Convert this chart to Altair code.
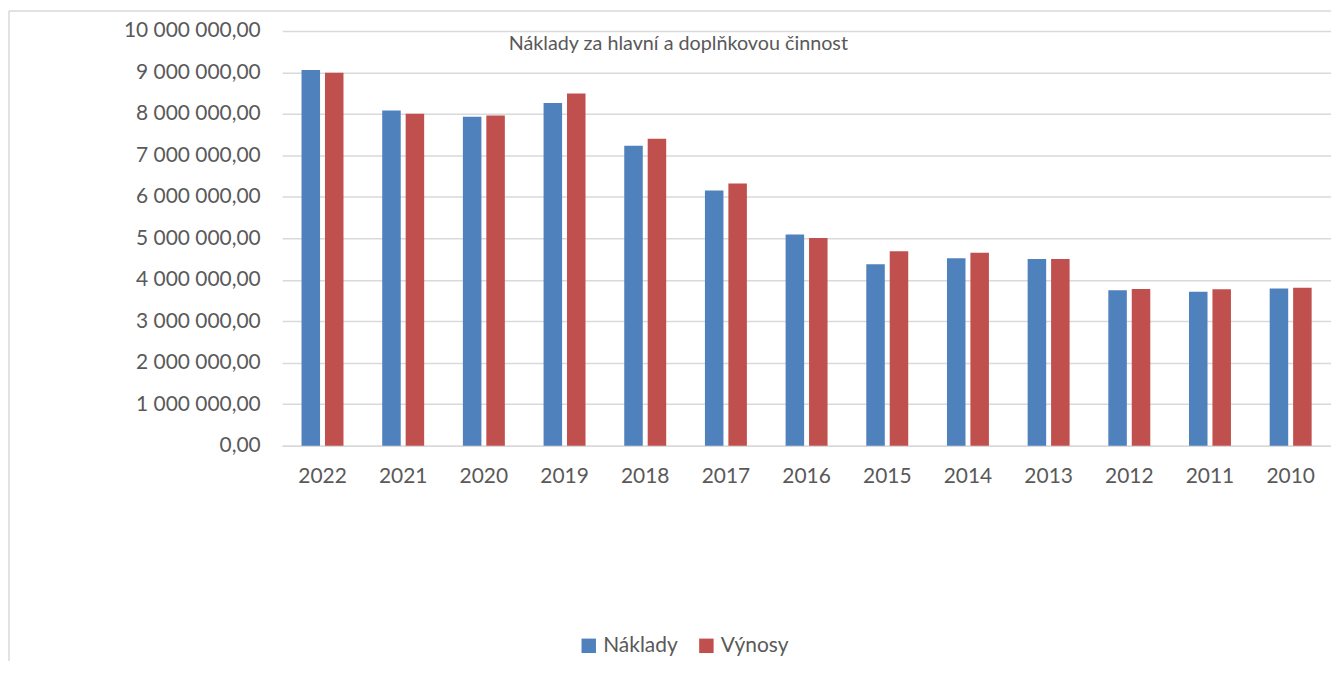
import altair as alt
import pandas as pd

years = ["2022", "2021", "2020", "2019", "2018", "2017", "2016", "2015", "2014", "2013", "2012", "2011", "2010"]
naklady = [9060000, 8080000, 7930000, 8260000, 7230000, 6150000, 5090000, 4375000, 4520000, 4500000, 3750000, 3710000, 3790000]
vynosy = [8990000, 8000000, 7960000, 8490000, 7400000, 6320000, 5010000, 4690000, 4650000, 4500000, 3780000, 3770000, 3810000]
series = ["Náklady", "Výnosy"]
colors = ["#4F81BD", "#C0504D"]
title_text = "Náklady za hlavní a doplňkovou činnost"

rows = []
for i, y in enumerate(years):
    rows.append({"rok": y, "serie": series[0], "hodnota": naklady[i]})
    rows.append({"rok": y, "serie": series[1], "hodnota": vynosy[i]})
df = pd.DataFrame(rows)

FONT = "Lato"
TXT = "#595959"
GRID = "#D9D9D9"

bars = alt.Chart(df).mark_bar().encode(
    x=alt.X("rok:N", sort=years, title=None,
            scale=alt.Scale(paddingInner=0.48, paddingOuter=0.24),
            axis=alt.Axis(labelAngle=0, ticks=False, domain=True, domainColor=GRID, domainWidth=1.5,
                          labelPadding=20, labelFontSize=21, labelColor=TXT, labelFont=FONT)),
    xOffset=alt.XOffset("serie:N", sort=series, scale=alt.Scale(paddingInner=0.21, paddingOuter=0)),
    y=alt.Y("hodnota:Q", title=None,
            scale=alt.Scale(domain=[0, 10000000], nice=False),
            axis=alt.Axis(values=list(range(0, 10000001, 1000000)),
                          labelExpr="datum.value == 0 ? '0,00' : format(datum.value/1000000, 'd') + ' 000 000,00'",
                          ticks=False, domain=False, labelPadding=22, labelFontSize=21, labelColor=TXT,
                          labelFont=FONT, gridColor=GRID, gridWidth=1.5)),
    color=alt.Color("serie:N", sort=series, scale=alt.Scale(domain=series, range=colors),
                    legend=alt.Legend(title=None, orient="none", legendX=297, legendY=606,
                                      direction="horizontal", symbolType="square", symbolSize=210,
                                      symbolStrokeWidth=0, labelFontSize=21, labelColor=TXT,
                                      labelFont=FONT, columnPadding=18, labelOffset=4)),
)

border_left = alt.Chart(pd.DataFrame({"a": [0]})).mark_rule(color=GRID, strokeWidth=1.5).encode(
    x=alt.value(-274), y=alt.value(-20), y2=alt.value(680))
border_top = alt.Chart(pd.DataFrame({"a": [0]})).mark_rule(color=GRID, strokeWidth=1.5).encode(
    x=alt.value(-274), x2=alt.value(1060), y=alt.value(-20))

chart = alt.layer(bars, border_left, border_top).properties(
    width=1052, height=416,
    title=alt.TitleParams(title_text, anchor="start", dx=502, dy=44, offset=0,
                          fontSize=19.8, fontWeight="normal", color=TXT, font=FONT),
    autosize=alt.AutoSizeParams(type="none"),
    padding={"left": 275, "top": 22, "right": 0, "bottom": 215},
).configure_view(stroke=None).configure_axis(labelFont=FONT)

chart.save("out.html", embed_options={"renderer": "svg", "actions": False})
